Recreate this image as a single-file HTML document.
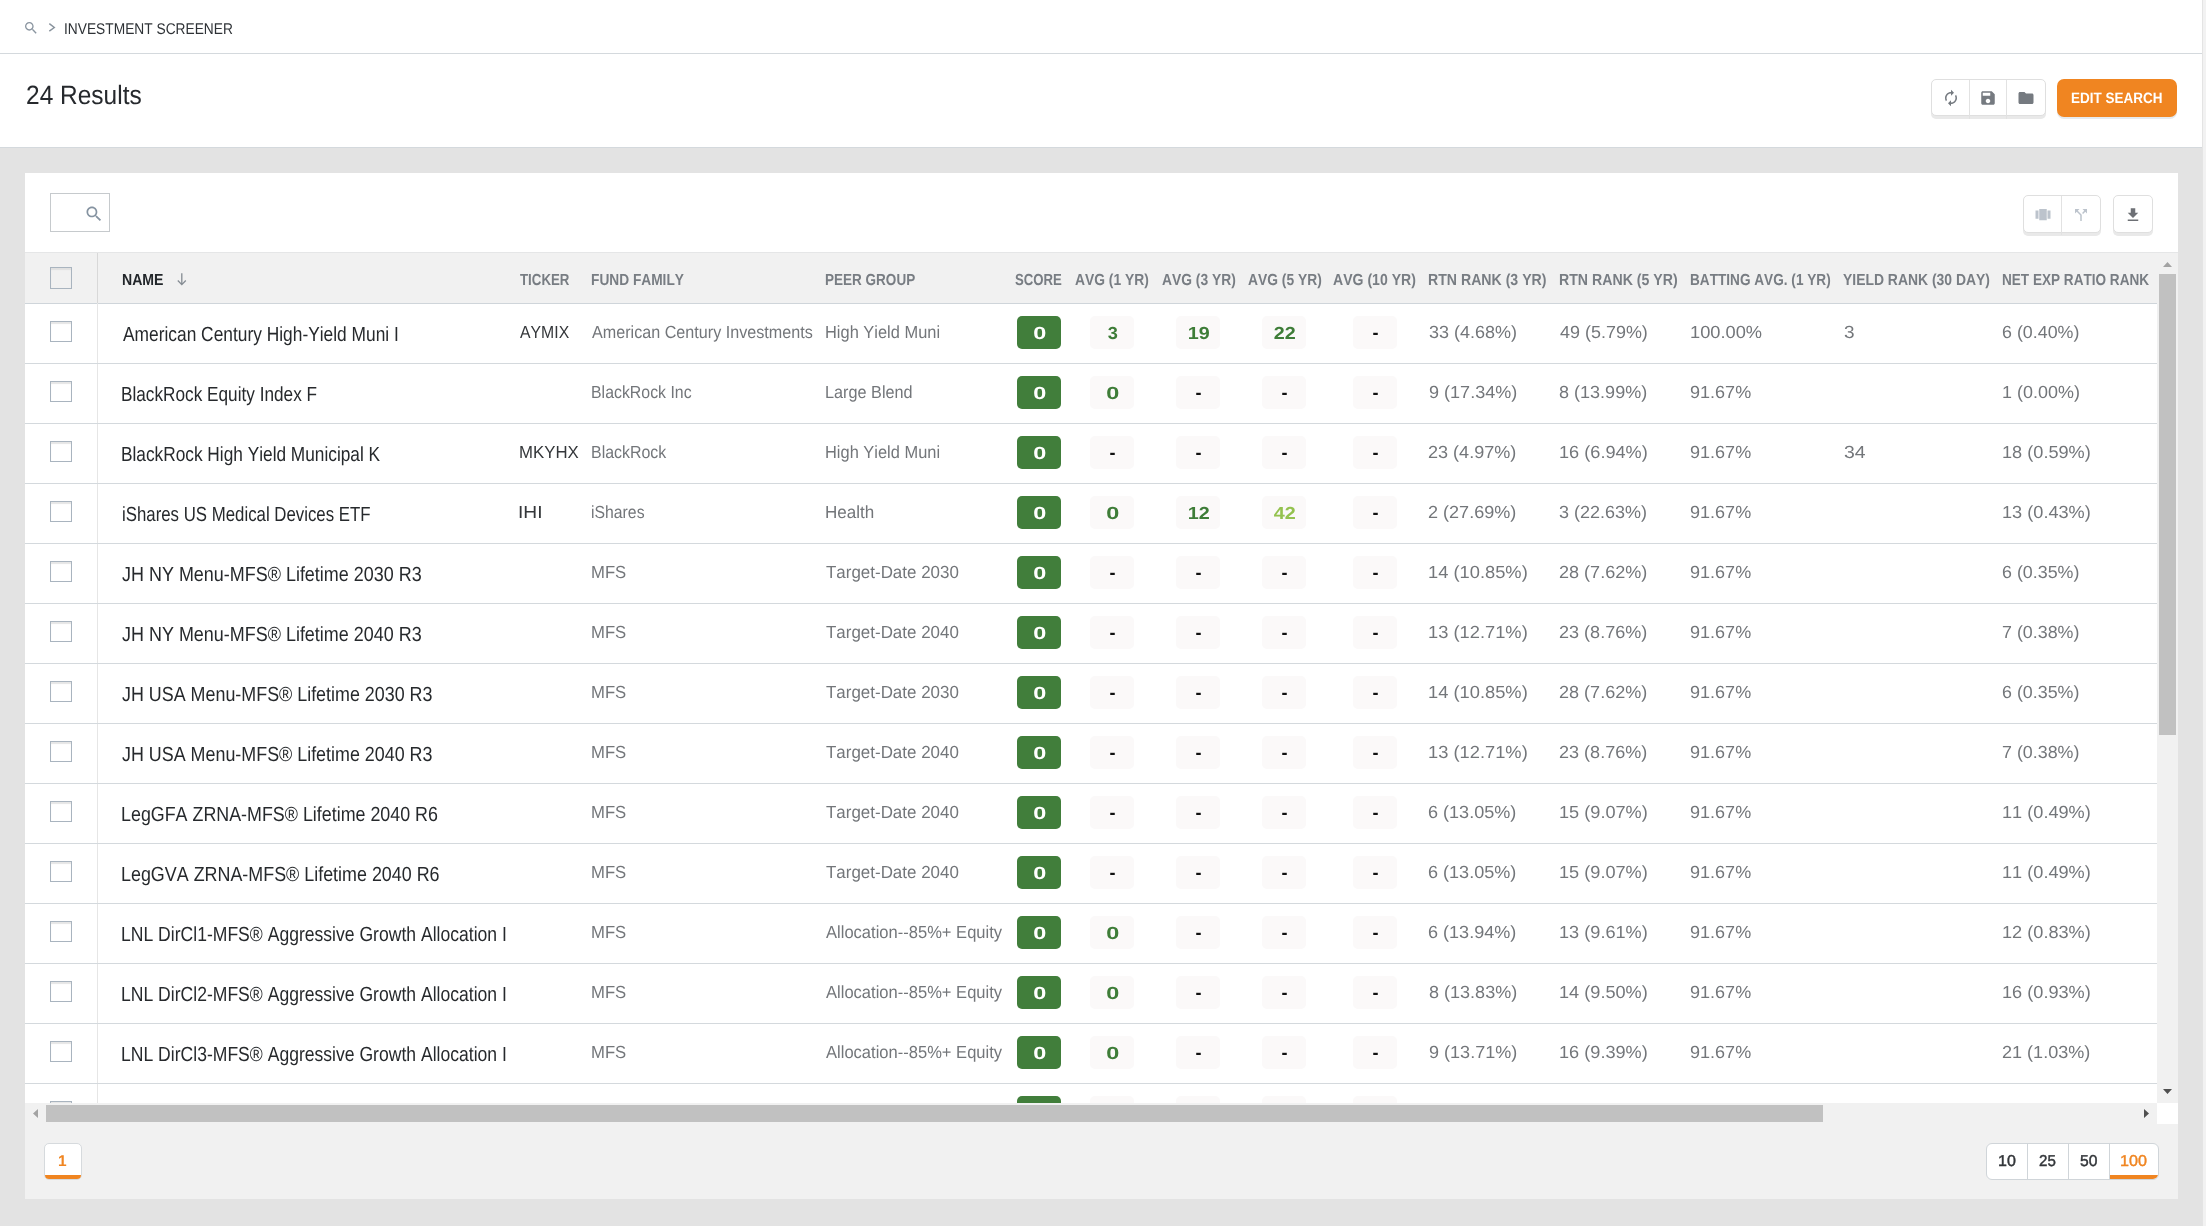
<!DOCTYPE html><html><head><meta charset="utf-8"><title>Investment Screener</title><style>*{box-sizing:border-box;margin:0;padding:0}
html,body{width:2206px;height:1226px;overflow:hidden}
body{background:#e3e3e3;font-family:"Liberation Sans",sans-serif;position:relative;color:#333}
div,i,b,svg{position:absolute}
b{font-weight:bold}
#top{left:0;top:0;width:2202px;height:54px;background:#fff;border-bottom:1px solid #d4d9dd}
#hdr{left:0;top:54px;width:2202px;height:94px;background:#fff;border-bottom:1px solid #d4d9dd}
#rstrip{left:2202px;top:0;width:4px;height:1226px;background:#f2f2f2;border-left:1px solid #e4e4e4}
.t{white-space:nowrap;font-kerning:none}
.t>span,.bd>span{display:inline-block;transform-origin:0 50%}
.bd>span{transform-origin:50% 50%}
.bc{font-size:15.5px;line-height:22px;margin-top:1px;color:#2e3236}
.res{font-size:26.5px;line-height:36px;color:#26292d}
#es{left:2057px;top:79px;width:120px;height:38px;background:#f08521;border-radius:7px;box-shadow:0 2px 0 #e6eaee}
.es{color:#fff;font-weight:bold;font-size:15px;line-height:37px;height:38px}
.grp{background:#fff;border:1px solid #dfdfdf;border-radius:5px;box-shadow:0 3px 0 #e9e9e9}
.grp i{top:0;width:1px;height:39px;background:#e2e2e2}
#card{left:25px;top:173px;width:2153px;height:1026px;background:#fff}
#thead{left:25px;top:253px;width:2132px;height:51px;background:#f1f1f1;border-bottom:1px solid #cfd5da}
#tline{left:25px;top:252px;width:2153px;height:1px;background:#e5e6e7}
#cbline{left:97px;top:253px;width:1px;height:850px;background:#e6e6e6;border-top:50px solid #d8d8d8}
.h,.hn{font-size:16px;font-weight:bold;line-height:50px;height:50px;margin-top:2px;color:#787d83}
.hn{color:#22262a}
#vp{left:25px;top:304px;width:2132px;height:799px;overflow:hidden}
.row{left:0;width:2132px;height:60px;border-bottom:1px solid #d4d9dd}
.cb{left:25px;top:17px;width:22px;height:21px;border:1px solid #a9b4bf;background:#fff;box-shadow:inset 0 2px 1px #e6e6e6}
.nm{font-size:20.5px;line-height:60px;height:59px;color:#26292c}
.tk{font-size:17.5px;line-height:57px;height:59px;color:#34373a}
.c,.n{font-size:17.5px;line-height:57px;height:59px;color:#73767a}
.bd{top:12px;width:44px;height:33px;border-radius:5px;text-align:center;padding-left:1px;font-size:17.5px;line-height:34px}
.bd>span{transform:scaleX(1.04) skewX(.05deg)}
.bd>.z{transform:scaleX(1.34) skewX(.05deg)}
.bd>.w{transform:scaleX(1.13) skewX(.05deg)}
.bd.da{font-size:18px;line-height:35px}
.bd.da>span{transform:none}
.sco{background:#417e3b;color:#fff}
.av{background:#fbf9f9;color:#3e7d38}
.av.lt{color:#94c24f}
.av.da{color:#111}
#foot{left:25px;top:1103px;width:2153px;height:96px;background:#f1f1f1}
.pg1,.ps{font-size:15.75px;line-height:35px;height:36px}
.pg1{color:#f08521;font-weight:bold;font-size:15.5px}
.ps{color:#33363a;-webkit-text-stroke:.45px #33363a}
.ps.on{color:#f08521;-webkit-text-stroke:.4px #f08521}
#all{left:0;top:0;width:2206px;height:1226px;will-change:transform}
</style></head><body><div id="all">
<div id="top"></div><div id="hdr"></div><div id="rstrip"></div>
<svg style="left:23.1px;top:19.9px" width="16" height="16" viewBox="0 0 24 24"><path fill="#8a95a0" d="M15.5 14h-.79l-.28-.27C15.41 12.59 16 11.11 16 9.5 16 5.91 13.09 3 9.5 3S3 5.91 3 9.5 5.91 16 9.5 16c1.61 0 3.09-.59 4.23-1.57l.27.28v.79l5 4.99L20.49 19l-4.99-5zm-6 0C7.01 14 5 11.99 5 9.5S7.01 5 9.5 5 14 7.01 14 9.5 11.99 14 9.5 14z"/></svg>
<svg style="left:46px;top:20px" width="12" height="15" viewBox="0 0 12 15"><path d="M3.3 3.6 L8.3 7.5 L3.3 11.1" fill="none" stroke="#8a949e" stroke-width="1.45"/></svg>
<div class="grp" style="left:1931px;top:79px;width:115px;height:37px"><i style="left:37px"></i><i style="left:74px"></i></div>
<svg style="left:1941.5px;top:89px" width="18" height="18" viewBox="0 0 24 24"><path fill="#757a80" d="M12 6v3l4-4-4-4v3c-4.42 0-8 3.58-8 8 0 1.57.46 3.03 1.24 4.26L6.7 14.8c-.45-.83-.7-1.79-.7-2.8 0-3.31 2.69-6 6-6zm6.76 1.74L17.3 9.2c.44.84.7 1.79.7 2.8 0 3.31-2.69 6-6 6v-3l-4 4 4 4v-3c4.42 0 8-3.58 8-8 0-1.57-.46-3.03-1.24-4.26z"/></svg>
<svg style="left:1979px;top:89px" width="18" height="18" viewBox="0 0 24 24"><path fill="#757a80" d="M17 3H5c-1.11 0-2 .9-2 2v14c0 1.1.89 2 2 2h14c1.1 0 2-.9 2-2V7l-4-4zm-5 16c-1.66 0-3-1.34-3-3s1.34-3 3-3 3 1.34 3 3-1.34 3-3 3zm3-10H5V5h10v4z"/></svg>
<svg style="left:2017px;top:89px" width="18" height="18" viewBox="0 0 24 24"><path fill="#757a80" d="M10 4H4c-1.1 0-1.99.9-1.99 2L2 18c0 1.1.9 2 2 2h16c1.1 0 2-.9 2-2V8c0-1.1-.9-2-2-2h-8l-2-2z"/></svg>

<div class="t bc" style="left:64.43px;top:17px;"><span style="transform:scaleX(0.8874) skewX(.05deg)">INVESTMENT SCREENER</span></div>
<div class="t res" style="left:26.37px;top:77px;"><span style="transform:scaleX(0.9242) skewX(.05deg)">24 Results</span></div>
<div id="es"></div>
<div class="t es" style="left:2070.90px;top:79px;"><span style="transform:scaleX(0.8991) skewX(.05deg)">EDIT SEARCH</span></div>
<div id="card"></div><div id="tline"></div><div id="thead"></div><div id="cbline"></div>
<div style="left:50px;top:193px;width:60px;height:39px;border:1px solid #c6cacd;background:#fff"></div>
<svg style="left:83.6px;top:204.4px" width="20" height="20" viewBox="0 0 24 24"><path fill="#8593a1" d="M15.5 14h-.79l-.28-.27C15.41 12.59 16 11.11 16 9.5 16 5.91 13.09 3 9.5 3S3 5.91 3 9.5 5.91 16 9.5 16c1.61 0 3.09-.59 4.23-1.57l.27.28v.79l5 4.99L20.49 19l-4.99-5zm-6 0C7.01 14 5 11.99 5 9.5S7.01 5 9.5 5 14 7.01 14 9.5 11.99 14 9.5 14z"/></svg>
<div class="grp" style="left:2023px;top:195px;width:78px;height:38px"><i style="left:37px"></i></div>
<div class="grp" style="left:2113px;top:195px;width:40px;height:38px"></div>
<svg style="left:2033.5px;top:206px" width="18" height="18" viewBox="0 0 24 24"><path fill="#bcc3cc" d="M7 19h10V4H7v15zm-5-2h4V6H2v11zM18 6v11h4V6h-4z"/></svg>
<svg style="left:2071.7px;top:206px" width="18" height="18" viewBox="0 0 24 24"><path fill="#bcc3cc" d="M14 4l2.29 2.29-2.88 2.88 1.42 1.42 2.88-2.88L20 10V4zm-4 0H4v6l2.29-2.29 4.71 4.7V20h2v-8.41l-5.29-5.3z"/></svg>
<svg style="left:2124.3px;top:206px" width="18" height="18" viewBox="0 0 24 24"><path fill="#6d7075" d="M19 9h-4V3H9v6H5l7 7 7-7zM5 18v2h14v-2H5z"/></svg>
<i class="cb" style="left:50px;top:267px;height:22px;background:#f1f1f1;box-shadow:inset 0 2px 1px #e0e0e0"></i>
<svg style="left:176px;top:272px" width="12" height="14" viewBox="0 0 12 14"><path d="M5.8 1.2 V12.3 M1.8 8.5 L5.8 12.6 L9.8 8.5" fill="none" stroke="#858c93" stroke-width="1.3"/></svg>

<div class="t hn" style="left:121.76px;top:253px;"><span style="transform:scaleX(0.8808) skewX(.05deg)">NAME</span></div>
<div class="t h" style="left:519.85px;top:253px;"><span style="transform:scaleX(0.8298) skewX(.05deg)">TICKER</span></div>
<div class="t h" style="left:590.78px;top:253px;"><span style="transform:scaleX(0.8571) skewX(.05deg)">FUND FAMILY</span></div>
<div class="t h" style="left:825.10px;top:253px;"><span style="transform:scaleX(0.8451) skewX(.05deg)">PEER GROUP</span></div>
<div class="t h" style="left:1015.32px;top:253px;"><span style="transform:scaleX(0.8242) skewX(.05deg)">SCORE</span></div>
<div class="t h" style="left:1075.36px;top:253px;"><span style="transform:scaleX(0.8651) skewX(.05deg)">AVG (1 YR)</span></div>
<div class="t h" style="left:1161.66px;top:253px;"><span style="transform:scaleX(0.8651) skewX(.05deg)">AVG (3 YR)</span></div>
<div class="t h" style="left:1247.66px;top:253px;"><span style="transform:scaleX(0.8639) skewX(.05deg)">AVG (5 YR)</span></div>
<div class="t h" style="left:1333.45px;top:253px;"><span style="transform:scaleX(0.8791) skewX(.05deg)">AVG (10 YR)</span></div>
<div class="t h" style="left:1428.06px;top:253px;"><span style="transform:scaleX(0.8825) skewX(.05deg)">RTN RANK (3 YR)</span></div>
<div class="t h" style="left:1559.25px;top:253px;"><span style="transform:scaleX(0.8840) skewX(.05deg)">RTN RANK (5 YR)</span></div>
<div class="t h" style="left:1690.09px;top:253px;"><span style="transform:scaleX(0.8509) skewX(.05deg)">BATTING AVG. (1 YR)</span></div>
<div class="t h" style="left:1843.46px;top:253px;"><span style="transform:scaleX(0.8699) skewX(.05deg)">YIELD RANK (30 DAY)</span></div>
<div class="t h" style="left:2001.79px;top:253px;"><span style="transform:scaleX(0.8482) skewX(.05deg)">NET EXP RATIO RANK</span></div>
<div id="vp">
<div class="row" style="top:0px">
<i class="cb"></i>
<div class="t nm" style="left:97.67px;top:0px;"><span style="transform:scaleX(0.8465) skewX(.05deg)">American Century High-Yield Muni I</span></div>
<div class="t tk" style="left:494.97px;top:0px;"><span style="transform:scaleX(0.9028) skewX(.05deg)">AYMIX</span></div>
<div class="t c" style="left:567.07px;top:0px;"><span style="transform:scaleX(0.9229) skewX(.05deg)">American Century Investments</span></div>
<div class="t c" style="left:799.85px;top:0px;"><span style="transform:scaleX(0.9388) skewX(.05deg)">High Yield Muni</span></div>
<b class="bd sco" style="left:992px"><span class="z">0</span></b>
<b class="bd av" style="left:1065px"><span>3</span></b>
<b class="bd av" style="left:1151px"><span class="w">19</span></b>
<b class="bd av" style="left:1237px"><span class="w">22</span></b>
<b class="bd av da" style="left:1328px"><span>-</span></b>
<div class="t n" style="left:1403.71px;top:0px;"><span style="transform:scaleX(1.0292) skewX(.05deg)">33 (4.68%)</span></div>
<div class="t n" style="left:1534.59px;top:0px;"><span style="transform:scaleX(1.0260) skewX(.05deg)">49 (5.79%)</span></div>
<div class="t n" style="left:1664.61px;top:0px;"><span style="transform:scaleX(1.0428) skewX(.05deg)">100.00%</span></div>
<div class="t n" style="left:1818.78px;top:0px;"><span style="transform:scaleX(1.0847) skewX(.05deg)">3</span></div>
<div class="t n" style="left:1977.49px;top:0px;"><span style="transform:scaleX(1.0203) skewX(.05deg)">6 (0.40%)</span></div>
</div>
<div class="row" style="top:60px">
<i class="cb"></i>
<div class="t nm" style="left:96.29px;top:0px;"><span style="transform:scaleX(0.8392) skewX(.05deg)">BlackRock Equity Index F</span></div>
<div class="t c" style="left:565.80px;top:0px;"><span style="transform:scaleX(0.9076) skewX(.05deg)">BlackRock Inc</span></div>
<div class="t c" style="left:799.87px;top:0px;"><span style="transform:scaleX(0.9280) skewX(.05deg)">Large Blend</span></div>
<b class="bd sco" style="left:992px"><span class="z">0</span></b>
<b class="bd av" style="left:1065px"><span class="z">0</span></b>
<b class="bd av da" style="left:1151px"><span>-</span></b>
<b class="bd av da" style="left:1237px"><span>-</span></b>
<b class="bd av da" style="left:1328px"><span>-</span></b>
<div class="t n" style="left:1403.55px;top:0px;"><span style="transform:scaleX(1.0311) skewX(.05deg)">9 (17.34%)</span></div>
<div class="t n" style="left:1534.22px;top:0px;"><span style="transform:scaleX(1.0304) skewX(.05deg)">8 (13.99%)</span></div>
<div class="t n" style="left:1665.15px;top:0px;"><span style="transform:scaleX(1.0309) skewX(.05deg)">91.67%</span></div>
<div class="t n" style="left:1977.03px;top:0px;"><span style="transform:scaleX(1.0265) skewX(.05deg)">1 (0.00%)</span></div>
</div>
<div class="row" style="top:120px">
<i class="cb"></i>
<div class="t nm" style="left:96.28px;top:0px;"><span style="transform:scaleX(0.8423) skewX(.05deg)">BlackRock High Yield Municipal K</span></div>
<div class="t tk" style="left:493.62px;top:0px;"><span style="transform:scaleX(0.9598) skewX(.05deg)">MKYHX</span></div>
<div class="t c" style="left:565.79px;top:0px;"><span style="transform:scaleX(0.9107) skewX(.05deg)">BlackRock</span></div>
<div class="t c" style="left:799.85px;top:0px;"><span style="transform:scaleX(0.9388) skewX(.05deg)">High Yield Muni</span></div>
<b class="bd sco" style="left:992px"><span class="z">0</span></b>
<b class="bd av da" style="left:1065px"><span>-</span></b>
<b class="bd av da" style="left:1151px"><span>-</span></b>
<b class="bd av da" style="left:1237px"><span>-</span></b>
<b class="bd av da" style="left:1328px"><span>-</span></b>
<div class="t n" style="left:1403.49px;top:0px;"><span style="transform:scaleX(1.0318) skewX(.05deg)">23 (4.97%)</span></div>
<div class="t n" style="left:1533.62px;top:0px;"><span style="transform:scaleX(1.0374) skewX(.05deg)">16 (6.94%)</span></div>
<div class="t n" style="left:1665.15px;top:0px;"><span style="transform:scaleX(1.0309) skewX(.05deg)">91.67%</span></div>
<div class="t n" style="left:1818.76px;top:0px;"><span style="transform:scaleX(1.1101) skewX(.05deg)">34</span></div>
<div class="t n" style="left:1977.02px;top:0px;"><span style="transform:scaleX(1.0374) skewX(.05deg)">18 (0.59%)</span></div>
</div>
<div class="row" style="top:180px">
<i class="cb"></i>
<div class="t nm" style="left:96.58px;top:0px;"><span style="transform:scaleX(0.8200) skewX(.05deg)">iShares US Medical Devices ETF</span></div>
<div class="t tk" style="left:493.23px;top:0px;"><span style="transform:scaleX(1.0976) skewX(.05deg)">IHI</span></div>
<div class="t c" style="left:566.04px;top:0px;"><span style="transform:scaleX(0.9021) skewX(.05deg)">iShares</span></div>
<div class="t c" style="left:799.80px;top:0px;"><span style="transform:scaleX(0.9747) skewX(.05deg)">Health</span></div>
<b class="bd sco" style="left:992px"><span class="z">0</span></b>
<b class="bd av" style="left:1065px"><span class="z">0</span></b>
<b class="bd av" style="left:1151px"><span class="w">12</span></b>
<b class="bd av lt" style="left:1237px"><span class="w">42</span></b>
<b class="bd av da" style="left:1328px"><span>-</span></b>
<div class="t n" style="left:1403.49px;top:0px;"><span style="transform:scaleX(1.0318) skewX(.05deg)">2 (27.69%)</span></div>
<div class="t n" style="left:1534.31px;top:0px;"><span style="transform:scaleX(1.0292) skewX(.05deg)">3 (22.63%)</span></div>
<div class="t n" style="left:1665.15px;top:0px;"><span style="transform:scaleX(1.0309) skewX(.05deg)">91.67%</span></div>
<div class="t n" style="left:1977.02px;top:0px;"><span style="transform:scaleX(1.0374) skewX(.05deg)">13 (0.43%)</span></div>
</div>
<div class="row" style="top:240px">
<i class="cb"></i>
<div class="t nm" style="left:97.42px;top:0px;"><span style="transform:scaleX(0.8760) skewX(.05deg)">JH NY Menu-MFS® Lifetime 2030 R3</span></div>
<div class="t c" style="left:565.73px;top:0px;"><span style="transform:scaleX(0.9539) skewX(.05deg)">MFS</span></div>
<div class="t c" style="left:800.82px;top:0px;"><span style="transform:scaleX(0.9685) skewX(.05deg)">Target-Date 2030</span></div>
<b class="bd sco" style="left:992px"><span class="z">0</span></b>
<b class="bd av da" style="left:1065px"><span>-</span></b>
<b class="bd av da" style="left:1151px"><span>-</span></b>
<b class="bd av da" style="left:1237px"><span>-</span></b>
<b class="bd av da" style="left:1328px"><span>-</span></b>
<div class="t n" style="left:1403.01px;top:0px;"><span style="transform:scaleX(1.0461) skewX(.05deg)">14 (10.85%)</span></div>
<div class="t n" style="left:1534.09px;top:0px;"><span style="transform:scaleX(1.0318) skewX(.05deg)">28 (7.62%)</span></div>
<div class="t n" style="left:1665.15px;top:0px;"><span style="transform:scaleX(1.0309) skewX(.05deg)">91.67%</span></div>
<div class="t n" style="left:1977.49px;top:0px;"><span style="transform:scaleX(1.0203) skewX(.05deg)">6 (0.35%)</span></div>
</div>
<div class="row" style="top:300px">
<i class="cb"></i>
<div class="t nm" style="left:97.42px;top:0px;"><span style="transform:scaleX(0.8760) skewX(.05deg)">JH NY Menu-MFS® Lifetime 2040 R3</span></div>
<div class="t c" style="left:565.73px;top:0px;"><span style="transform:scaleX(0.9539) skewX(.05deg)">MFS</span></div>
<div class="t c" style="left:800.82px;top:0px;"><span style="transform:scaleX(0.9685) skewX(.05deg)">Target-Date 2040</span></div>
<b class="bd sco" style="left:992px"><span class="z">0</span></b>
<b class="bd av da" style="left:1065px"><span>-</span></b>
<b class="bd av da" style="left:1151px"><span>-</span></b>
<b class="bd av da" style="left:1237px"><span>-</span></b>
<b class="bd av da" style="left:1328px"><span>-</span></b>
<div class="t n" style="left:1403.01px;top:0px;"><span style="transform:scaleX(1.0461) skewX(.05deg)">13 (12.71%)</span></div>
<div class="t n" style="left:1534.09px;top:0px;"><span style="transform:scaleX(1.0318) skewX(.05deg)">23 (8.76%)</span></div>
<div class="t n" style="left:1665.15px;top:0px;"><span style="transform:scaleX(1.0309) skewX(.05deg)">91.67%</span></div>
<div class="t n" style="left:1977.48px;top:0px;"><span style="transform:scaleX(1.0205) skewX(.05deg)">7 (0.38%)</span></div>
</div>
<div class="row" style="top:360px">
<i class="cb"></i>
<div class="t nm" style="left:97.42px;top:0px;"><span style="transform:scaleX(0.8727) skewX(.05deg)">JH USA Menu-MFS® Lifetime 2030 R3</span></div>
<div class="t c" style="left:565.73px;top:0px;"><span style="transform:scaleX(0.9539) skewX(.05deg)">MFS</span></div>
<div class="t c" style="left:800.82px;top:0px;"><span style="transform:scaleX(0.9685) skewX(.05deg)">Target-Date 2030</span></div>
<b class="bd sco" style="left:992px"><span class="z">0</span></b>
<b class="bd av da" style="left:1065px"><span>-</span></b>
<b class="bd av da" style="left:1151px"><span>-</span></b>
<b class="bd av da" style="left:1237px"><span>-</span></b>
<b class="bd av da" style="left:1328px"><span>-</span></b>
<div class="t n" style="left:1403.01px;top:0px;"><span style="transform:scaleX(1.0461) skewX(.05deg)">14 (10.85%)</span></div>
<div class="t n" style="left:1534.09px;top:0px;"><span style="transform:scaleX(1.0318) skewX(.05deg)">28 (7.62%)</span></div>
<div class="t n" style="left:1665.15px;top:0px;"><span style="transform:scaleX(1.0309) skewX(.05deg)">91.67%</span></div>
<div class="t n" style="left:1977.49px;top:0px;"><span style="transform:scaleX(1.0203) skewX(.05deg)">6 (0.35%)</span></div>
</div>
<div class="row" style="top:420px">
<i class="cb"></i>
<div class="t nm" style="left:97.42px;top:0px;"><span style="transform:scaleX(0.8727) skewX(.05deg)">JH USA Menu-MFS® Lifetime 2040 R3</span></div>
<div class="t c" style="left:565.73px;top:0px;"><span style="transform:scaleX(0.9539) skewX(.05deg)">MFS</span></div>
<div class="t c" style="left:800.82px;top:0px;"><span style="transform:scaleX(0.9685) skewX(.05deg)">Target-Date 2040</span></div>
<b class="bd sco" style="left:992px"><span class="z">0</span></b>
<b class="bd av da" style="left:1065px"><span>-</span></b>
<b class="bd av da" style="left:1151px"><span>-</span></b>
<b class="bd av da" style="left:1237px"><span>-</span></b>
<b class="bd av da" style="left:1328px"><span>-</span></b>
<div class="t n" style="left:1403.01px;top:0px;"><span style="transform:scaleX(1.0461) skewX(.05deg)">13 (12.71%)</span></div>
<div class="t n" style="left:1534.09px;top:0px;"><span style="transform:scaleX(1.0318) skewX(.05deg)">23 (8.76%)</span></div>
<div class="t n" style="left:1665.15px;top:0px;"><span style="transform:scaleX(1.0309) skewX(.05deg)">91.67%</span></div>
<div class="t n" style="left:1977.48px;top:0px;"><span style="transform:scaleX(1.0205) skewX(.05deg)">7 (0.38%)</span></div>
</div>
<div class="row" style="top:480px">
<i class="cb"></i>
<div class="t nm" style="left:96.23px;top:0px;"><span style="transform:scaleX(0.8714) skewX(.05deg)">LegGFA ZRNA-MFS® Lifetime 2040 R6</span></div>
<div class="t c" style="left:565.73px;top:0px;"><span style="transform:scaleX(0.9539) skewX(.05deg)">MFS</span></div>
<div class="t c" style="left:800.82px;top:0px;"><span style="transform:scaleX(0.9685) skewX(.05deg)">Target-Date 2040</span></div>
<b class="bd sco" style="left:992px"><span class="z">0</span></b>
<b class="bd av da" style="left:1065px"><span>-</span></b>
<b class="bd av da" style="left:1151px"><span>-</span></b>
<b class="bd av da" style="left:1237px"><span>-</span></b>
<b class="bd av da" style="left:1328px"><span>-</span></b>
<div class="t n" style="left:1403.48px;top:0px;"><span style="transform:scaleX(1.0319) skewX(.05deg)">6 (13.05%)</span></div>
<div class="t n" style="left:1533.62px;top:0px;"><span style="transform:scaleX(1.0374) skewX(.05deg)">15 (9.07%)</span></div>
<div class="t n" style="left:1665.15px;top:0px;"><span style="transform:scaleX(1.0309) skewX(.05deg)">91.67%</span></div>
<div class="t n" style="left:1977.02px;top:0px;"><span style="transform:scaleX(1.0374) skewX(.05deg)">11 (0.49%)</span></div>
</div>
<div class="row" style="top:540px">
<i class="cb"></i>
<div class="t nm" style="left:96.23px;top:0px;"><span style="transform:scaleX(0.8730) skewX(.05deg)">LegGVA ZRNA-MFS® Lifetime 2040 R6</span></div>
<div class="t c" style="left:565.73px;top:0px;"><span style="transform:scaleX(0.9539) skewX(.05deg)">MFS</span></div>
<div class="t c" style="left:800.82px;top:0px;"><span style="transform:scaleX(0.9685) skewX(.05deg)">Target-Date 2040</span></div>
<b class="bd sco" style="left:992px"><span class="z">0</span></b>
<b class="bd av da" style="left:1065px"><span>-</span></b>
<b class="bd av da" style="left:1151px"><span>-</span></b>
<b class="bd av da" style="left:1237px"><span>-</span></b>
<b class="bd av da" style="left:1328px"><span>-</span></b>
<div class="t n" style="left:1403.48px;top:0px;"><span style="transform:scaleX(1.0319) skewX(.05deg)">6 (13.05%)</span></div>
<div class="t n" style="left:1533.62px;top:0px;"><span style="transform:scaleX(1.0374) skewX(.05deg)">15 (9.07%)</span></div>
<div class="t n" style="left:1665.15px;top:0px;"><span style="transform:scaleX(1.0309) skewX(.05deg)">91.67%</span></div>
<div class="t n" style="left:1977.02px;top:0px;"><span style="transform:scaleX(1.0374) skewX(.05deg)">11 (0.49%)</span></div>
</div>
<div class="row" style="top:600px">
<i class="cb"></i>
<div class="t nm" style="left:96.26px;top:0px;"><span style="transform:scaleX(0.8569) skewX(.05deg)">LNL DirCl1-MFS® Aggressive Growth Allocation I</span></div>
<div class="t c" style="left:565.73px;top:0px;"><span style="transform:scaleX(0.9539) skewX(.05deg)">MFS</span></div>
<div class="t c" style="left:801.17px;top:0px;"><span style="transform:scaleX(0.9452) skewX(.05deg)">Allocation--85%+ Equity</span></div>
<b class="bd sco" style="left:992px"><span class="z">0</span></b>
<b class="bd av" style="left:1065px"><span class="z">0</span></b>
<b class="bd av da" style="left:1151px"><span>-</span></b>
<b class="bd av da" style="left:1237px"><span>-</span></b>
<b class="bd av da" style="left:1328px"><span>-</span></b>
<div class="t n" style="left:1403.48px;top:0px;"><span style="transform:scaleX(1.0319) skewX(.05deg)">6 (13.94%)</span></div>
<div class="t n" style="left:1533.62px;top:0px;"><span style="transform:scaleX(1.0374) skewX(.05deg)">13 (9.61%)</span></div>
<div class="t n" style="left:1665.15px;top:0px;"><span style="transform:scaleX(1.0309) skewX(.05deg)">91.67%</span></div>
<div class="t n" style="left:1977.02px;top:0px;"><span style="transform:scaleX(1.0374) skewX(.05deg)">12 (0.83%)</span></div>
</div>
<div class="row" style="top:660px">
<i class="cb"></i>
<div class="t nm" style="left:96.26px;top:0px;"><span style="transform:scaleX(0.8569) skewX(.05deg)">LNL DirCl2-MFS® Aggressive Growth Allocation I</span></div>
<div class="t c" style="left:565.73px;top:0px;"><span style="transform:scaleX(0.9539) skewX(.05deg)">MFS</span></div>
<div class="t c" style="left:801.17px;top:0px;"><span style="transform:scaleX(0.9452) skewX(.05deg)">Allocation--85%+ Equity</span></div>
<b class="bd sco" style="left:992px"><span class="z">0</span></b>
<b class="bd av" style="left:1065px"><span class="z">0</span></b>
<b class="bd av da" style="left:1151px"><span>-</span></b>
<b class="bd av da" style="left:1237px"><span>-</span></b>
<b class="bd av da" style="left:1328px"><span>-</span></b>
<div class="t n" style="left:1403.62px;top:0px;"><span style="transform:scaleX(1.0304) skewX(.05deg)">8 (13.83%)</span></div>
<div class="t n" style="left:1533.62px;top:0px;"><span style="transform:scaleX(1.0374) skewX(.05deg)">14 (9.50%)</span></div>
<div class="t n" style="left:1665.15px;top:0px;"><span style="transform:scaleX(1.0309) skewX(.05deg)">91.67%</span></div>
<div class="t n" style="left:1977.02px;top:0px;"><span style="transform:scaleX(1.0374) skewX(.05deg)">16 (0.93%)</span></div>
</div>
<div class="row" style="top:720px">
<i class="cb"></i>
<div class="t nm" style="left:96.26px;top:0px;"><span style="transform:scaleX(0.8569) skewX(.05deg)">LNL DirCl3-MFS® Aggressive Growth Allocation I</span></div>
<div class="t c" style="left:565.73px;top:0px;"><span style="transform:scaleX(0.9539) skewX(.05deg)">MFS</span></div>
<div class="t c" style="left:801.17px;top:0px;"><span style="transform:scaleX(0.9452) skewX(.05deg)">Allocation--85%+ Equity</span></div>
<b class="bd sco" style="left:992px"><span class="z">0</span></b>
<b class="bd av" style="left:1065px"><span class="z">0</span></b>
<b class="bd av da" style="left:1151px"><span>-</span></b>
<b class="bd av da" style="left:1237px"><span>-</span></b>
<b class="bd av da" style="left:1328px"><span>-</span></b>
<div class="t n" style="left:1403.55px;top:0px;"><span style="transform:scaleX(1.0311) skewX(.05deg)">9 (13.71%)</span></div>
<div class="t n" style="left:1533.62px;top:0px;"><span style="transform:scaleX(1.0374) skewX(.05deg)">16 (9.39%)</span></div>
<div class="t n" style="left:1665.15px;top:0px;"><span style="transform:scaleX(1.0309) skewX(.05deg)">91.67%</span></div>
<div class="t n" style="left:1977.49px;top:0px;"><span style="transform:scaleX(1.0318) skewX(.05deg)">21 (1.03%)</span></div>
</div>
<div class="row" style="top:780px">
<i class="cb"></i>
<b class="bd sco" style="left:992px"><span class="z">0</span></b>
<b class="bd av da" style="left:1065px"><span>-</span></b>
<b class="bd av da" style="left:1151px"><span>-</span></b>
<b class="bd av da" style="left:1237px"><span>-</span></b>
<b class="bd av da" style="left:1328px"><span>-</span></b>
</div>
</div>
<div id="foot"></div>
<div style="left:2157px;top:253px;width:21px;height:850px;background:#f1f1f1"></div>
<div style="left:2159px;top:274px;width:17px;height:461px;background:#c1c1c1"></div>
<div style="left:2157px;top:1103px;width:21px;height:21px;background:#fff"></div>
<div style="left:46px;top:1105px;width:1777px;height:17px;background:#c1c1c1"></div>
<svg style="left:0;top:0" width="2206" height="1226" viewBox="0 0 2206 1226"><path fill="#a3a3a3" d="M2163 267H2172L2167.5 262zM38 1109V1118L33 1113.5z"/><path fill="#505050" d="M2163 1089H2172L2167.5 1094zM2144 1109V1118L2149 1113.5z"/></svg>
<div style="left:44px;top:1143px;width:38px;height:37px;background:#fff;border:1px solid #d6dadd;border-radius:5px;overflow:hidden"><i style="left:0;bottom:0;width:100%;height:4px;background:#f08521"></i></div>
<div style="left:1986px;top:1143px;width:173px;height:37px;background:#fff;border:1px solid #d0d5d9;border-radius:6px;overflow:hidden"><i style="left:40px;top:0;width:1px;height:100%;background:#d0d5d9"></i><i style="left:81px;top:0;width:1px;height:100%;background:#d0d5d9"></i><i style="left:122px;top:0;width:1px;height:100%;background:#d0d5d9"></i><i style="left:123px;bottom:0;width:50px;height:4px;background:#f08521"></i></div>

<div class="t pg1" style="left:58.42px;top:1143px;"><span style="transform:scaleX(1.0000) skewX(.05deg)">1</span></div>
<div class="t ps" style="left:1997.78px;top:1143px;"><span style="transform:scaleX(1.0189) skewX(.05deg)">10</span></div>
<div class="t ps" style="left:2039.34px;top:1143px;"><span style="transform:scaleX(0.9586) skewX(.05deg)">25</span></div>
<div class="t ps" style="left:2080.07px;top:1143px;"><span style="transform:scaleX(0.9955) skewX(.05deg)">50</span></div>
<div class="t ps on" style="left:2119.72px;top:1143px;"><span style="transform:scaleX(1.0260) skewX(.05deg)">100</span></div>
</div></body></html>
